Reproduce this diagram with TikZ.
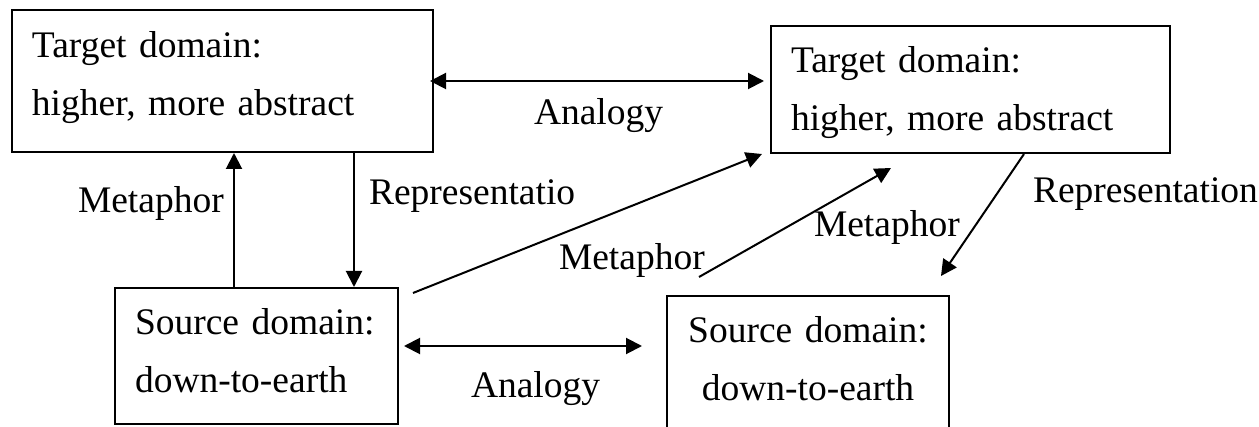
\documentclass[tikz,border=0pt]{standalone}
\usepackage{fontspec}
\setmainfont{Liberation Serif}
\usepackage{tikz}
\usetikzlibrary{arrows.meta}

\begin{document}
\begin{tikzpicture}[x=0.5pt, y=-0.5pt, line width=1pt, font=\fontsize{18.75pt}{29pt}\selectfont]
\tikzstyle{box}=[draw, line width=1pt, inner xsep=10pt, inner ysep=0pt, align=left]
\tikzstyle{arr}=[-{Triangle[length=8pt,width=8pt]}]
\tikzstyle{dbl}=[{Triangle[length=8pt,width=8pt]}-{Triangle[length=8pt,width=8pt]}]
\tikzstyle{lbl}=[inner sep=0pt, anchor=base west]
\useasboundingbox (0,0) rectangle (1259,427);
\node[box, text width=190.5pt, minimum height=71pt] (t1) at (222.5,81) {Target domain:\\higher, more abstract\rule[-7.3pt]{0pt}{7.3pt}};
\node[box, text width=179.5pt, minimum height=63.5pt] (t2) at (970.5,89.5) {\rule{0pt}{15.6pt}Target domain:\\higher, more abstract};
\node[box, text width=121.5pt, minimum height=68pt] (s1) at (256.5,356) {Source domain:\\down-to-earth\rule[-6pt]{0pt}{6pt}};
\node[box, align=center, text width=121pt, minimum height=67pt] (s2) at (808,363) {Source domain:\\down-to-earth\rule[-4.5pt]{0pt}{4.5pt}};
\node[lbl] (l1) at (533,125) {Analogy};
\node[lbl] (l2) at (77,213) {Metaphor};
\node[lbl] (l3) at (368,205) {Representatio};
\node[lbl] (l4) at (558,270) {Metaphor};
\node[lbl] (l5) at (813,237) {Metaphor};
\node[lbl] (l6) at (1032,203) {Representation};
\node[lbl] (l7) at (470,397) {Analogy};
\draw[dbl, shorten >=3pt, shorten <=-2pt] (t1.east) -- (t1.east -| t2.west);
\draw[arr] ([xshift=60pt]s1.north west) -- ([xshift=111.5pt]t1.south west);
\draw[arr] ([xshift=171.5pt]t1.south west) -- ([xshift=120pt]s1.north west);
\draw[arr] ([xshift=7pt,yshift=-3pt]s1.north east) -- ([xshift=-4pt]t2.south west);
\draw[arr] ([xshift=16.5pt,yshift=9pt]s2.north west) -- ([xshift=60.5pt,yshift=-7pt]t2.south west);
\draw[arr] ([xshift=127pt]t2.south west) -- ([xshift=137.5pt,yshift=9.5pt]s2.north west);
\draw[dbl, shorten <=2.5pt, shorten >=12pt] ([yshift=5pt]s1.east) -- ([yshift=5pt]s1.east -| s2.west);
\end{tikzpicture}
\end{document}
